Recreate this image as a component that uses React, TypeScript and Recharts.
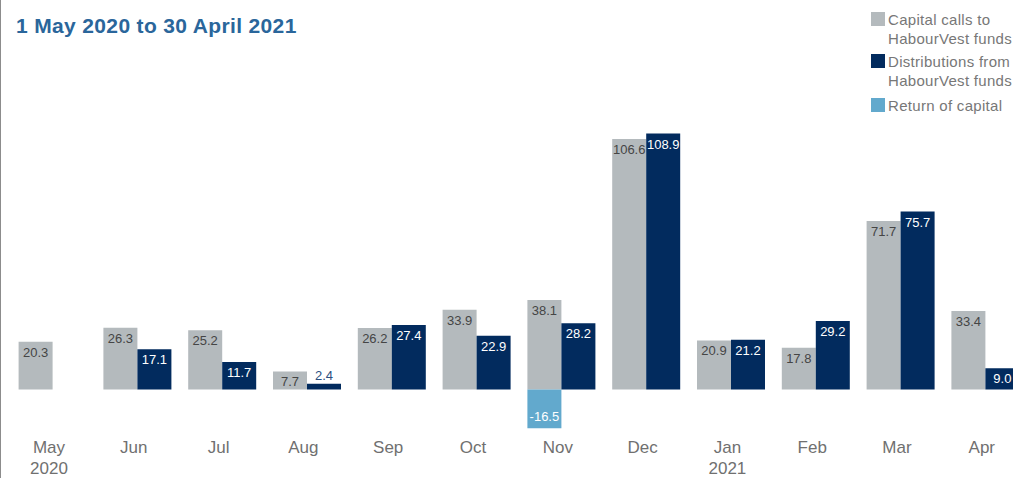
import React from "react"
import { BarChart, Bar, XAxis, YAxis, LabelList, Legend } from "recharts"

const months = ["May", "Jun", "Jul", "Aug", "Sep", "Oct", "Nov", "Dec", "Jan", "Feb", "Mar", "Apr"]
const yearLabels: Record<string, string> = { May: "2020", Jan: "2021" }
const capitalCalls = [20.3, 26.3, 25.2, 7.7, 26.2, 33.9, 38.1, 106.6, 20.9, 17.8, 71.7, 33.4]
const distributions = [null, 17.1, 11.7, 2.4, 27.4, 22.9, 28.2, 108.9, 21.2, 29.2, 75.7, 9.0]
const returnOfCapital = [null, null, null, null, null, null, -16.5, null, null, null, null, null]

const legendItems = [
    { lines: ["Capital calls to", "HabourVest funds"], color: "#b4babd" },
    { lines: ["Distributions from", "HabourVest funds"], color: "#022b5e" },
    { lines: ["Return of capital"], color: "#62a9cd" },
]

const data = months.map((m, i) => ({
    month: m,
    cap: capitalCalls[i],
    dist: distributions[i],
    ret: returnOfCapital[i],
}))

const FONT = "'Liberation Sans', Arial, sans-serif"

function makeLabel(fill: string, smallFill?: string) {
    return (props: any) => {
        const { x, y, width, height, value } = props
        if (value === null || value === undefined || value === 0) return null
        const top = Math.min(y, y + height)
        const bottom = Math.max(y, y + height)
        const cx = x + width / 2
        let ty = top + 15
        let color = fill
        if (value < 0) ty = bottom - 7
        else if (bottom - top < 18) {
            ty = top - 4
            color = smallFill || fill
        }
        return (
            <text x={cx} y={ty} textAnchor="middle" fontSize={13} fill={color} fontFamily={FONT}>
                {Number(value).toFixed(1)}
            </text>
        )
    }
}

function MonthTick(props: any) {
    const { x, y, payload } = props
    const year = yearLabels[payload.value]
    return (
        <text x={x - 4} y={y} textAnchor="middle" fontSize={17} fill="#707070" fontFamily={FONT}>
            <tspan x={x - 4} dy={16.5}>{payload.value}</tspan>
            {year && <tspan x={x - 4} dy={21}>{year}</tspan>}
        </text>
    )
}

function LegendBox() {
    const tops = [12, 54, 98]
    return (
        <div style={{ position: "relative", width: 150, height: 120, fontFamily: FONT }}>
            {legendItems.map((item, i) => (
                <div key={i} style={{ position: "absolute", left: 0, top: tops[i] }}>
                    <div style={{ position: "absolute", left: 0, top: 0, width: 14, height: 14, background: item.color }} />
                    <div style={{ position: "absolute", left: 17, top: -2.5, fontSize: 15, lineHeight: "19px", letterSpacing: 0.3, color: "#777777", whiteSpace: "nowrap" }}>
                        {item.lines.map((l, j) => <div key={j}>{l}</div>)}
                    </div>
                </div>
            ))}
        </div>
    )
}

export default function App() {
    return (
        <div style={{ position: "absolute", left: 0, top: 0, width: 1013, height: 478, overflow: "hidden", background: "#fff" }}>
            <div style={{ position: "absolute", left: 0, top: 0, width: 1, height: 478, background: "#8c8c8c" }} />
            <div style={{ position: "absolute", left: 16, top: 14, fontFamily: FONT, fontWeight: 700, fontSize: 21, letterSpacing: 0.35, color: "#2a669b", whiteSpace: "nowrap" }}>
                1 May 2020 to 30 April 2021
            </div>
            <BarChart
                width={1040}
                height={478}
                data={data}
                stackOffset="sign"
                barGap={0}
                barSize={34}
                margin={{ top: 107.5, right: 11.8, left: 10.6, bottom: 11.5 }}
            >
                <XAxis dataKey="month" axisLine={false} tickLine={false} tickSize={0} tickMargin={0} height={30} interval={0} tick={<MonthTick />} />
                <YAxis hide domain={[-20, 120]} />
                <Legend
                    layout="vertical"
                    align="center"
                    verticalAlign="middle"
                    wrapperStyle={{ left: 871, top: 0, width: 150 }}
                    content={() => <LegendBox />}
                />
                <Bar dataKey="cap" stackId="a" fill="#b4babd" isAnimationActive={false}>
                    <LabelList dataKey="cap" content={makeLabel("#454545")} />
                </Bar>
                <Bar dataKey="ret" stackId="a" fill="#62a9cd" isAnimationActive={false}>
                    <LabelList dataKey="ret" content={makeLabel("#ffffff")} />
                </Bar>
                <Bar dataKey="dist" fill="#022b5e" isAnimationActive={false}>
                    <LabelList dataKey="dist" content={makeLabel("#ffffff", "#2b4f80")} />
                </Bar>
            </BarChart>
        </div>
    )
}
